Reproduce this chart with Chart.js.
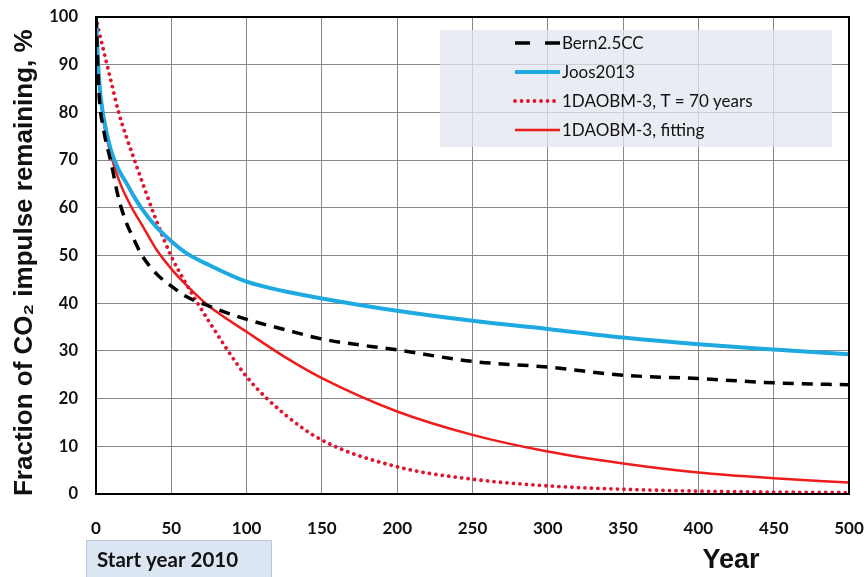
<!DOCTYPE html>
<html>
<head>
<meta charset="utf-8">
<script src="https://cdn.jsdelivr.net/npm/chart.js@4/dist/chart.umd.min.js"></script>
<style>
  html, body { margin: 0; padding: 0; background: #fff; }
  #wrap { width: 867px; height: 577px; }
</style>
</head>
<body>
<div id="wrap"><canvas id="myChart" width="867" height="577"></canvas></div>
<script>
// years after the pulse
var years = [0, 2, 5, 10, 15, 20, 25, 30, 40, 50, 60, 75, 100, 125, 150, 200, 250, 300, 350, 400, 450, 500];

var bern = [100, 84, 76.5, 69.5, 62, 57, 53.5, 50.3, 46.2, 43.6, 41.4, 39.4, 36.6, 34.5, 32.5, 30.2, 27.8, 26.6, 24.9, 24.2, 23.3, 22.9];
var joos = [100, 87, 79, 72, 68, 65.3, 62.5, 60, 56, 53, 50.5, 48, 44.5, 42.5, 41, 38.4, 36.3, 34.6, 32.8, 31.4, 30.3, 29.3];
var tau70 = [100, 97, 93, 86.5, 80, 75, 70.5, 66, 57.4, 49.8, 44, 36.2, 24.6, 16.8, 11.3, 5.7, 3.1, 1.7, 1.0, 0.6, 0.4, 0.3];
var fitting = [100, 87, 78, 71, 66, 62.3, 59.3, 56.7, 51.3, 47.2, 43.8, 39.4, 34, 28.8, 24.3, 17.3, 12.4, 8.9, 6.4, 4.5, 3.3, 2.4];

var seriesNames = ['Bern2.5CC', 'Joos2013', '1DAOBM-3, T = 70 years', '1DAOBM-3, fitting'];

var yTicks = [0, 10, 20, 30, 40, 50, 60, 70, 80, 90, 100];
var xTicks = [0, 50, 100, 150, 200, 250, 300, 350, 400, 450, 500];

function pts(vals) {
  return years.map(function (x, i) { return { x: x, y: vals[i] }; });
}

var ctx = document.getElementById('myChart').getContext('2d');

// legend box, plot frame, "Year" label and the start-year box
var extras = {
  id: 'extras',
  beforeDatasetsDraw: function (chart) {
    var c = chart.ctx;
    c.save();
    c.fillStyle = 'rgba(225,229,238,0.75)';
    c.fillRect(440, 30, 392, 117);
    c.restore();
  },
  afterDraw: function (chart) {
    var c = chart.ctx;
    var a = chart.chartArea;
    c.save();
    // frame
    c.strokeStyle = '#000';
    c.lineWidth = 2;
    c.strokeRect(a.left, a.top, a.right - a.left, a.bottom - a.top);

    // legend entries
    var rows = [43, 72, 101, 130];
    chart.data.datasets.forEach(function (ds, i) {
      var y = rows[i];
      c.beginPath();
      c.strokeStyle = ds.borderColor;
      c.lineWidth = ds.borderWidth;
      c.lineCap = ds.borderCapStyle || 'butt';
      c.setLineDash(ds.legendDash || ds.borderDash || []);
      c.moveTo(515, y);
      c.lineTo(560, y);
      c.stroke();
      c.setLineDash([]);
      c.fillStyle = '#111';
      c.font = '17px Lato, sans-serif';
      c.textBaseline = 'middle';
      c.textAlign = 'left';
      c.fillText(ds.label, 562, y + 1);
    });

    // start year box
    c.fillStyle = '#dce6f2';
    c.fillRect(86, 540, 186, 40);
    c.strokeStyle = '#b9c6d8';
    c.lineWidth = 1;
    c.strokeRect(86.5, 540.5, 185, 40);
    c.fillStyle = '#111';
    c.font = 'bold 20.5px Lato, sans-serif';
    c.textBaseline = 'middle';
    c.fillText('Start year 2010', 97, 560);

    // axis name
    c.font = 'bold 27px "Liberation Sans", Arial, sans-serif';
    c.textAlign = 'center';
    c.fillText('Year', 731, 561);
    c.restore();
  }
};

var myChart = new Chart(ctx, {
  type: 'line',
  data: {
    datasets: [{
      label: seriesNames[0],
      data: pts(bern),
      borderColor: '#000000',
      borderWidth: 3.5,
      borderDash: [11, 8],
      legendDash: [15, 15]
    }, {
      label: seriesNames[1],
      data: pts(joos),
      borderColor: '#1fa9e1',
      borderWidth: 4
    }, {
      label: seriesNames[2],
      data: pts(tau70),
      borderColor: '#e0142f',
      borderWidth: 3.8,
      borderDash: [0.01, 6.5],
      borderCapStyle: 'round'
    }, {
      label: seriesNames[3],
      data: pts(fitting),
      borderColor: '#ee1c1c',
      borderWidth: 2.5
    }]
  },
  plugins: [extras],
  options: {
    responsive: false,
    animation: false,
    devicePixelRatio: 1,
    layout: { padding: { top: 17, right: 18, left: 0, bottom: 0 } },
    elements: {
      point: { radius: 0 },
      line: { cubicInterpolationMode: 'monotone' }
    },
    plugins: {
      legend: { display: false },
      tooltip: { enabled: false }
    },
    scales: {
      x: {
        type: 'linear',
        min: 0,
        max: 500,
        afterBuildTicks: function (s) { s.ticks = xTicks.map(function (v) { return { value: v }; }); },
        afterFit: function (s) { s.height = 83; s.paddingLeft = 0; s.paddingRight = 0; },
        grid: { color: '#878787', lineWidth: 1, drawTicks: false },
        border: { color: '#000', width: 2 },
        ticks: {
          padding: 24,
          color: '#111',
          font: { family: 'Lato', weight: 'bold', size: 17 }
        }
      },
      y: {
        min: 0,
        max: 100,
        afterBuildTicks: function (s) { s.ticks = yTicks.map(function (v) { return { value: v }; }); },
        afterFit: function (s) { s.width = 96; s.paddingTop = 0; s.paddingBottom = 0; },
        grid: { color: '#878787', lineWidth: 1, drawTicks: false },
        border: { color: '#000', width: 2 },
        title: {
          display: true,
          // two trailing spaces push the rotated text a little lower, as in the original
          text: 'Fraction of CO\u2082 impulse remaining, %  ',
          color: '#111',
          font: { family: '"Liberation Sans", Arial, sans-serif', weight: 'bold', size: 26 },
          padding: { top: 9, bottom: 0 }
        },
        ticks: {
          padding: 18,
          color: '#111',
          font: { family: 'Lato', weight: 'bold', size: 16.5 }
        }
      }
    }
  }
});
</script>
</body>
</html>
